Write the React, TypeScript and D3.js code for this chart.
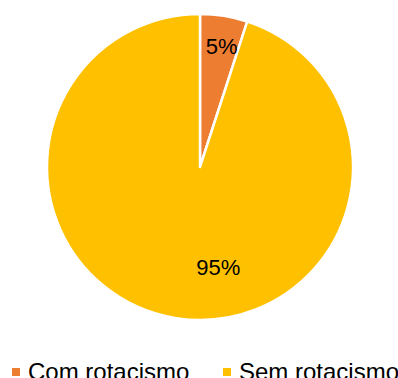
import React from "react";
import * as d3 from "d3";

const categories = ["Com rotacismo", "Sem rotacismo"];
const values = [5, 95];
const labels = ["5%", "95%"];
const colors = ["#ED7D31", "#FFC000"];

export default function App() {
  const W = 398, H = 378;
  const cx = 200, cy = 167, R = 153;
  const pie = d3.pie<number>().sort(null).value((d) => d)(values);
  const arc = d3.arc<d3.PieArcDatum<number>>().innerRadius(0).outerRadius(R);
  const labelPos = (d: d3.PieArcDatum<number>, i: number) => {
    if (i === 0) {
      const a = (d.startAngle + d.endAngle) / 2 + 0.02;
      const r = 0.8 * R;
      return [r * Math.sin(a), -r * Math.cos(a)];
    }
    const a = Math.PI - 0.18;
    const r = 0.67 * R;
    return [r * Math.sin(a), -r * Math.cos(a)];
  };
  const legendX = [12, 223];
  return (
    <svg width={W} height={H} style={{ position: "absolute", left: 0, top: 0 }}>
      <rect width={W} height={H} fill="#fff" />
      <g transform={`translate(${cx},${cy})`}>
        {pie.map((d, i) => (
          <path key={i} d={arc(d) || ""} fill={colors[i]} stroke="#fff" strokeWidth={2.5} strokeLinejoin="round" />
        ))}
        {pie.map((d, i) => {
          const [x, y] = labelPos(d, i);
          return (
            <text key={i} x={x} y={y} textAnchor="middle" dominantBaseline="central"
              fontFamily="Liberation Sans, Arial, sans-serif" fontSize={22} fill="#000">
              {labels[i]}
            </text>
          );
        })}
      </g>
      {categories.map((c, i) => (
        <g key={c}>
          <rect x={legendX[i]} y={368} width={8} height={8} fill={colors[i]} />
          <text x={legendX[i] + 16} y={380} fontFamily="Liberation Sans, Arial, sans-serif" fontSize={24} fill="#000">
            {c}
          </text>
        </g>
      ))}
    </svg>
  );
}
